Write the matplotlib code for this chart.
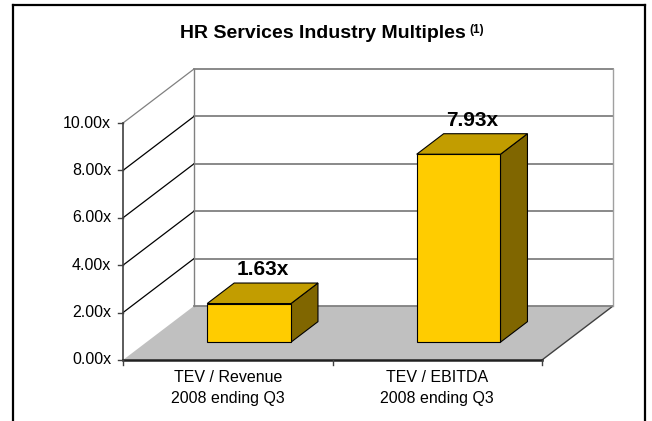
import matplotlib
matplotlib.use("Agg")
import matplotlib.pyplot as plt
from matplotlib.patches import Polygon
from matplotlib.lines import Line2D

plt.rcParams['font.family'] = ['Liberation Sans', 'DejaVu Sans']

# data
categories = ["TEV / Revenue\n2008 ending Q3", "TEV / EBITDA\n2008 ending Q3"]
values = [1.63, 7.93]
value_labels = ["1.63x", "7.93x"]
yticks = [0, 2, 4, 6, 8, 10]
ytick_labels = ["%.2fx" % t for t in yticks]
title = "HR Services Industry Multiples"
footnote = "(1)"

# layout (pixels of a 652x421 picture)
W, H = 652, 421
x0_px, y0_px = 123, 360          # front-left corner of the floor
px_per_cat, px_per_unit = 209.5, 23.7
DX = 71 / px_per_cat             # depth offset, in data units
DY = 54 / px_per_unit
f0, f1 = 0.33, 0.71              # bar front / back position in depth
bar_w = 0.40
ncat = len(categories)
ymax = yticks[-1]

fig = plt.figure(figsize=(W / 100, H / 100), dpi=100)
ax = fig.add_axes([0, 0, 1, 1])
ax.set_xlim(-x0_px / px_per_cat, (W - x0_px) / px_per_cat)
ax.set_ylim(-(H - y0_px) / px_per_unit, y0_px / px_per_unit)
ax.axis('off')

# outer frame
for xs, ys in [([13 / W, 13 / W], [0, 1 - 5 / H]),
               ([13 / W, 645 / W], [1 - 5 / H, 1 - 5 / H]),
               ([645 / W, 645 / W], [1 - 5 / H, 0])]:
    fig.add_artist(Line2D(xs, ys, transform=fig.transFigure, color='black', lw=1.6))

# floor
ax.add_patch(Polygon([(0, 0), (ncat, 0), (ncat + DX, DY), (DX, DY)],
                     closed=True, facecolor='#C0C0C0', edgecolor='none', zorder=1))
ax.plot([ncat, ncat + DX], [0, DY], color='#404040', lw=1.0, zorder=2)

# back wall gridlines and left wall lines
for t in yticks:
    ax.plot([DX, ncat + DX], [t + DY, t + DY], color='#808080', lw=1.3, zorder=2)
    if t == 0:
        continue
    ax.plot([0, DX], [t, t + DY], color='#808080' if t == ymax else 'black', lw=0.9, zorder=2)
ax.plot([DX, DX], [DY, ymax + DY], color='#808080', lw=1.0, zorder=2)
ax.plot([ncat + DX, ncat + DX], [DY, ymax + DY], color='#A0A0A0', lw=1.0, zorder=2)

# axes lines, ticks
ax.plot([0, 0], [0, ymax], color='#404040', lw=1.2, zorder=3)
ax.plot([0, ncat], [0, 0], color='#202020', lw=1.8, zorder=3)
tick_x = 5 / px_per_cat
for t, lab in zip(yticks, ytick_labels):
    ax.plot([-tick_x, 0], [t, t], color='#404040', lw=1.0, zorder=3)
    ax.text(-tick_x - 7 / px_per_cat, t, lab, ha='right', va='center', fontsize=11.5)
for i in range(ncat + 1):
    ax.plot([i, i], [0, -5 / px_per_unit], color='#404040', lw=1.0, zorder=3)

# bars
for i, (v, lab) in enumerate(zip(values, value_labels)):
    c = i + 0.49
    xl, xr = c - bar_w / 2, c + bar_w / 2
    a, b = f0 * DX, f1 * DX
    ya, yb = f0 * DY, f1 * DY
    front = [(xl + a, ya), (xr + a, ya), (xr + a, ya + v), (xl + a, ya + v)]
    top = [(xl + a, ya + v), (xr + a, ya + v), (xr + b, yb + v), (xl + b, yb + v)]
    side = [(xr + a, ya), (xr + b, yb), (xr + b, yb + v), (xr + a, ya + v)]
    ax.add_patch(Polygon(side, closed=True, facecolor='#806600', edgecolor='black', lw=0.8, zorder=4))
    ax.add_patch(Polygon(top, closed=True, facecolor='#C29D00', edgecolor='black', lw=0.8, zorder=4))
    ax.add_patch(Polygon(front, closed=True, facecolor='#FFCC00', edgecolor='black', lw=0.8, zorder=5))
    ax.text(c + (a + b) / 2, v + yb + 4 / px_per_unit, lab, ha='center', va='bottom',
            fontsize=15, fontweight='bold', zorder=6)

# category labels
for i, cat in enumerate(categories):
    line1, line2 = cat.split('\n')
    ax.text(i + 0.5, -18 / px_per_unit, line1, ha='center', va='center', fontsize=11.5)
    ax.text(i + 0.5, -38 / px_per_unit, line2, ha='center', va='center', fontsize=11.5)

# title with superscript footnote
t_main = fig.text(323 / W, 1 - 34 / H, title, ha='center', va='center',
                  fontsize=14, fontweight='bold')
fig.canvas.draw()
bb = t_main.get_window_extent()
fig.text((bb.x1 + 3) / W, (bb.y1 + 2) / H, footnote, ha='left', va='top',
         fontsize=8.5, fontweight='bold')

fig.savefig("out.png", dpi=100)
